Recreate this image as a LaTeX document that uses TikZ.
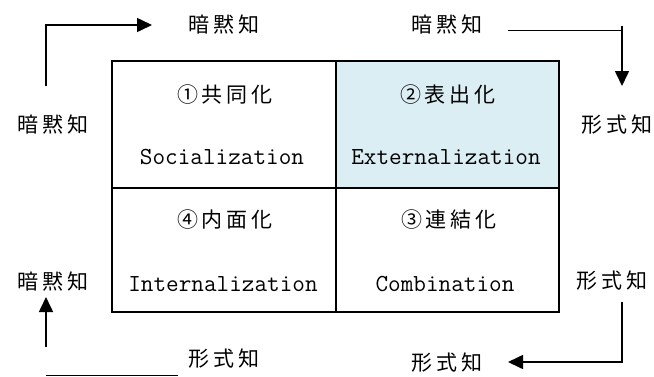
\documentclass[tikz,border=0pt]{standalone}
\usepackage{fontspec}
\newfontfamily\jp{Noto Sans CJK JP}[LetterSpace=19]
\usetikzlibrary{arrows.meta}
\definecolor{cellblue}{RGB}{218,238,243}
\tikzset{
  jt/.style={font=\fontsize{21}{24}\selectfont\jp, inner sep=0pt, anchor=center},
  lt/.style={font=\fontsize{24.5}{28}\selectfont\ttfamily, inner sep=0pt, anchor=center},
  cell/.style={draw, line width=1.8pt, inner sep=0pt},
  arr/.style={line width=1.6pt, -{Triangle[length=15pt,width=14pt]}},
  thinln/.style={line width=1pt}
}
\begin{document}
\begin{tikzpicture}[x=1pt,y=-1pt]
\useasboundingbox (0,0) rectangle (654,376);
% cells
\node[cell, minimum width=224pt, minimum height=127pt] (c1) at (224,124.5) {};
\node[cell, fill=cellblue, minimum width=223pt, minimum height=127pt] (c2) at (447.5,124.5) {};
\node[cell, minimum width=224pt, minimum height=124pt] (c4) at (224,250) {};
\node[cell, minimum width=223pt, minimum height=124pt] (c3) at (447.5,250) {};
% cell texts
\node[jt] (t1) at (223,95) {①共同化\kern-4pt};
\node[lt] (s1) at (222,157) {Socialization};
\node[jt] (t2) at (446,95) {②表出化\kern-4pt};
\node[lt] (s2) at (446,157) {Externalization};
\node[jt] (t4) at (223,220) {④内面化\kern-4pt};
\node[lt] (s4) at (223,284) {Internalization};
\node[jt] (t3) at (447,220) {③連結化\kern-4pt};
\node[lt] (s3) at (445,284) {Combination};
% outer labels
\node[jt] (ltl) at (222,24) {暗黙知\kern-4pt};
\node[jt] (ltr) at (445,24) {暗黙知\kern-4pt};
\node[jt] (lml) at (51,124) {暗黙知\kern-4pt};
\node[jt] (lmr) at (615,125) {形式知\kern-4pt};
\node[jt] (lbl) at (51,281) {暗黙知\kern-4pt};
\node[jt] (lbr) at (610,281) {形式知\kern-4pt};
\node[jt] (lbbl) at (222,359) {形式知\kern-4pt};
\node[jt] (lbbr) at (445,363) {形式知\kern-4pt};
% arrow coordinates
\coordinate (a1s) at (46,86);
\coordinate (a1e) at (152,25);
\coordinate (a2s) at (508,30);
\coordinate (a2c) at (622,30);
\coordinate (a2t) at (622,26);
\coordinate (a2e) at (622,86);
\coordinate (a3s) at (622,302);
\coordinate (a3e) at (508,362);
\coordinate (a4s) at (46,347);
\coordinate (a4e) at (46,297);
\coordinate (b4s) at (46,375);
\coordinate (b4e) at (178,375);
% arrows
\draw[arr] (a1s) |- (a1e);
\draw[thinln] (a2s) -- (a2c);
\draw[arr] (a2t) -- (a2e);
\draw[arr] (a3s) |- (a3e);
\draw[arr] (a4s) -- (a4e);
\draw[thinln] (b4s) -- (b4e);
\end{tikzpicture}
\end{document}
